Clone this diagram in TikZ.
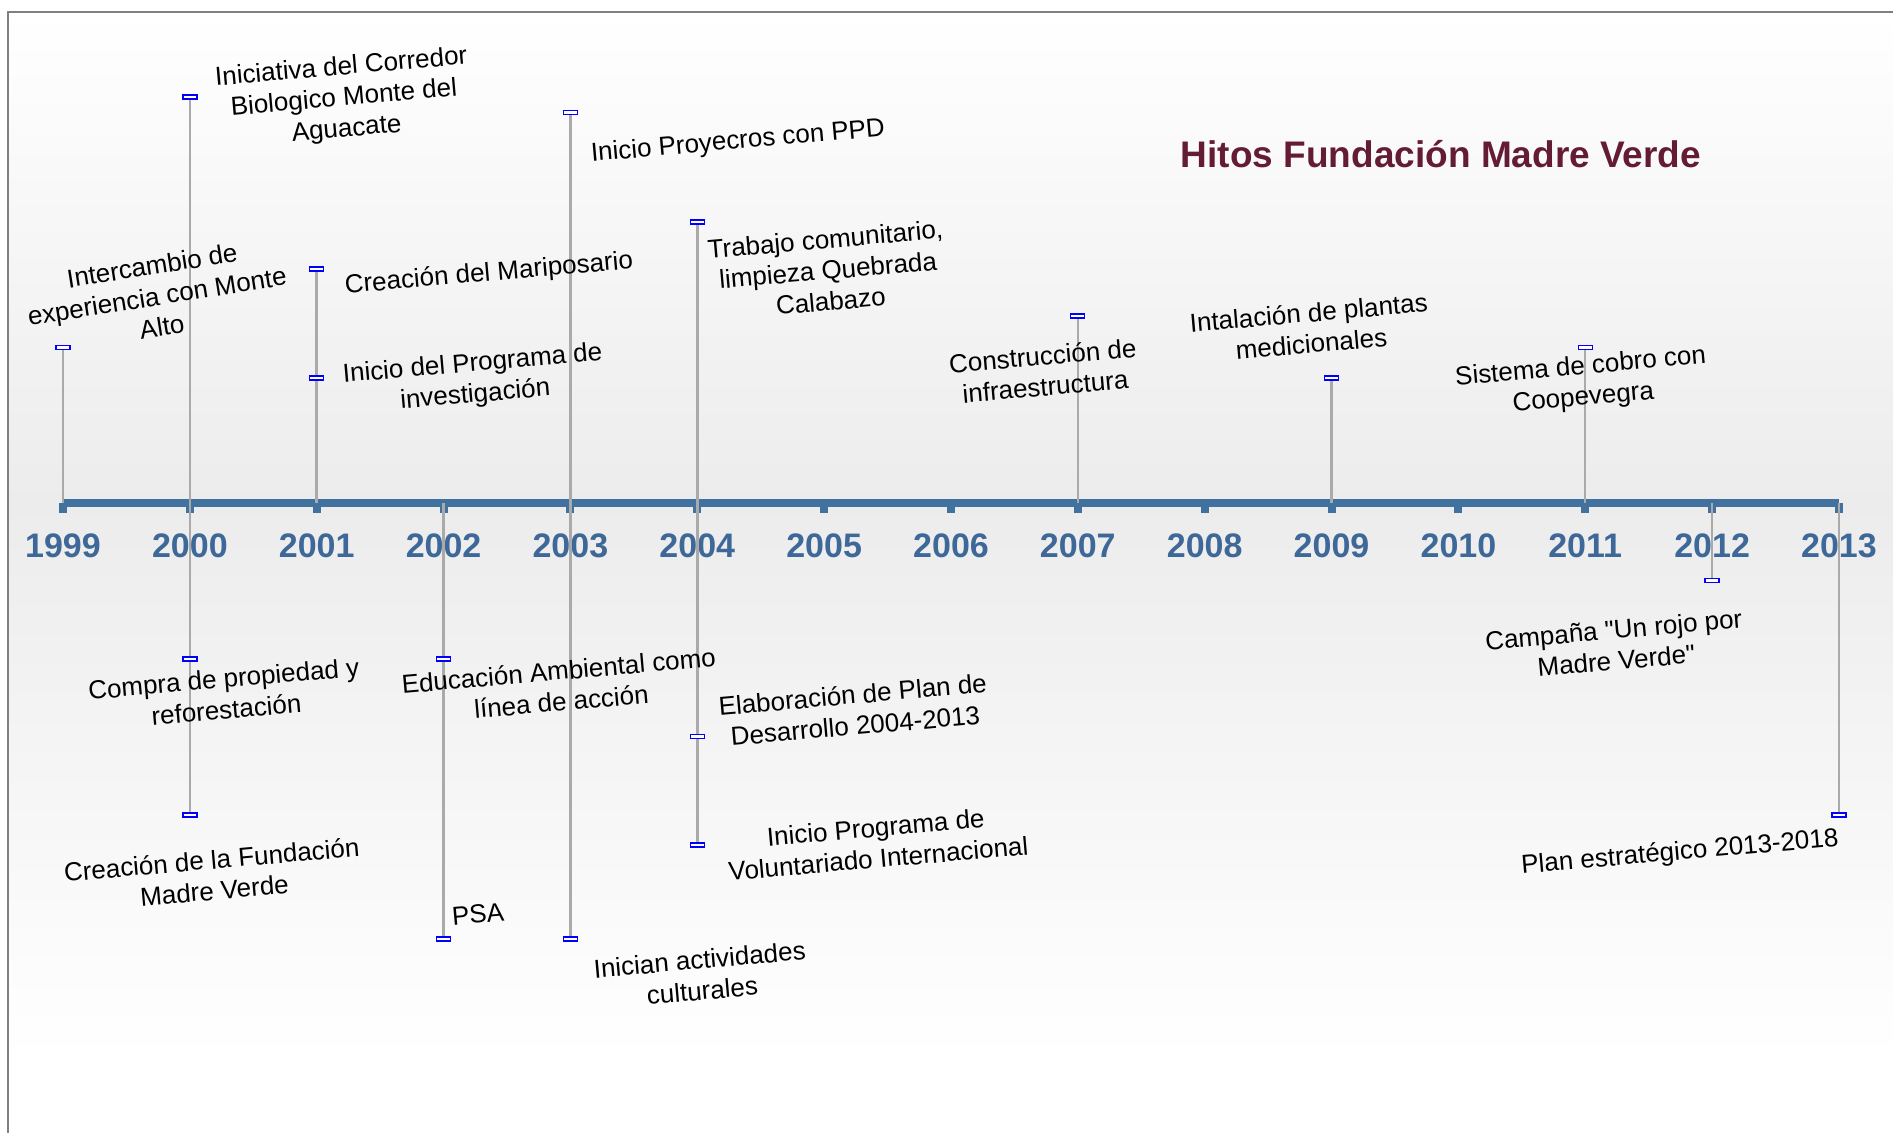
\documentclass[tikz,border=0pt]{standalone}
\usepackage{fontspec}
\setmainfont{Liberation Sans}[Ligatures=TeXOff]
\definecolor{axisBlue}{RGB}{65,113,158}
\definecolor{yearBlue}{RGB}{62,104,152}
\definecolor{stemGray}{RGB}{170,170,170}
\definecolor{titleRed}{RGB}{100,28,52}
\definecolor{bgGray}{RGB}{236,236,236}
\definecolor{frameGray}{RGB}{128,128,128}
\tikzstyle{eventLabel}=[font = \fontsize{26}{31}\selectfont, align = center, rotate = 5, inner sep = 0pt]
\tikzstyle{markerBox}=[shape = rectangle, minimum width = 14pt, minimum height = 4pt, inner sep = 0pt, draw = blue, fill = white, line width = 1.3pt]

\begin{document}
\begin{tikzpicture}[x = 1pt, y = -1pt]
\tikzstyle{tickStyle}=[shape = rectangle, minimum width = 8pt, minimum height = 10pt, inner sep = 0pt, fill = axisBlue]
\tikzstyle{stemStyle}=[draw = stemGray, line width = 2.5pt]
\tikzstyle{yearStyle}=[anchor = base, text = yearBlue, font = \fontsize{34}{40}\selectfont\bfseries]
\useasboundingbox (0,0) rectangle (1893,1133);
\fill[white] (0,0) rectangle (1893,1133);
\shade[top color = white, bottom color = bgGray] (8,12) rectangle (1893,503);
\shade[top color = bgGray, bottom color = white] (8,503) rectangle (1893,1060);
\draw[frameGray, line width = 1.5pt] (1893,12) -- (8,12) -- (8,1133);
\node[anchor = base, text = titleRed, font = \fontsize{37}{44}\selectfont\bfseries] (title) at (1441,167) {Hitos Fundación Madre Verde};
\node[tickStyle] (t1999) at (63,508) {};
\node[tickStyle] (t2000) at (189.9,508) {};
\node[tickStyle] (t2001) at (316.7,508) {};
\node[tickStyle] (t2002) at (443.6,508) {};
\node[tickStyle] (t2003) at (570.4,508) {};
\node[tickStyle] (t2004) at (697.3,508) {};
\node[tickStyle] (t2005) at (824.1,508) {};
\node[tickStyle] (t2006) at (951,508) {};
\node[tickStyle] (t2007) at (1077.8,508) {};
\node[tickStyle] (t2008) at (1204.7,508) {};
\node[tickStyle] (t2009) at (1331.5,508) {};
\node[tickStyle] (t2010) at (1458.4,508) {};
\node[tickStyle] (t2011) at (1585.2,508) {};
\node[tickStyle] (t2012) at (1712.1,508) {};
\node[tickStyle] (t2013) at (1838.9,508) {};
\draw[axisBlue, line width = 7.5pt] (t1999.north) -- (t2013.north);
\node[yearStyle] (y1999) at (63,557) {1999};
\node[yearStyle] (y2000) at (189.9,557) {2000};
\node[yearStyle] (y2001) at (316.7,557) {2001};
\node[yearStyle] (y2002) at (443.6,557) {2002};
\node[yearStyle] (y2003) at (570.4,557) {2003};
\node[yearStyle] (y2004) at (697.3,557) {2004};
\node[yearStyle] (y2005) at (824.1,557) {2005};
\node[yearStyle] (y2006) at (951,557) {2006};
\node[yearStyle] (y2007) at (1077.8,557) {2007};
\node[yearStyle] (y2008) at (1204.7,557) {2008};
\node[yearStyle] (y2009) at (1331.5,557) {2009};
\node[yearStyle] (y2010) at (1458.4,557) {2010};
\node[yearStyle] (y2011) at (1585.2,557) {2011};
\node[yearStyle] (y2012) at (1712.1,557) {2012};
\node[yearStyle] (y2013) at (1838.9,557) {2013};
\node[markerBox] (m1999) at (63,347.5) {};
\node[markerBox] (m2000a) at (189.9,97) {};
\node[markerBox] (m2000b) at (189.9,659) {};
\node[markerBox] (m2000c) at (189.9,815) {};
\node[markerBox] (m2001a) at (316.7,269) {};
\node[markerBox] (m2001b) at (316.7,378) {};
\node[markerBox] (m2002a) at (443.6,659) {};
\node[markerBox] (m2002b) at (443.6,939) {};
\node[markerBox] (m2003a) at (570.4,112.5) {};
\node[markerBox] (m2003b) at (570.4,939) {};
\node[markerBox] (m2004a) at (697.3,222) {};
\node[markerBox] (m2004b) at (697.3,736.5) {};
\node[markerBox] (m2004c) at (697.3,845) {};
\node[markerBox] (m2007) at (1077.8,316) {};
\node[markerBox] (m2009) at (1331.5,378) {};
\node[markerBox] (m2011) at (1585.2,347.5) {};
\node[markerBox] (m2012) at (1712.1,580.7) {};
\node[markerBox] (m2013) at (1838.9,815) {};
\draw[stemStyle] (t1999.north) -- (m1999);
\draw[stemStyle] (t2000.north) -- (m2000a);
\draw[stemStyle] (t2000.north) -- (m2000b) -- (m2000c);
\draw[stemStyle] (t2001.north) -- (m2001b) -- (m2001a);
\draw[stemStyle] (t2002.north) -- (m2002a) -- (m2002b);
\draw[stemStyle] (t2003.north) -- (m2003a);
\draw[stemStyle] (t2003.north) -- (m2003b);
\draw[stemStyle] (t2004.north) -- (m2004a);
\draw[stemStyle] (t2004.north) -- (m2004b) -- (m2004c);
\draw[stemStyle] (t2007.north) -- (m2007);
\draw[stemStyle] (t2009.north) -- (m2009);
\draw[stemStyle] (t2011.north) -- (m2011);
\draw[stemStyle] (t2012.north) -- (m2012);
\draw[stemStyle] (t2013.north) -- (m2013);
\node[eventLabel, rotate = 4] (intercambio) at (157,296) {Intercambio de\\experiencia con Monte\\Alto};
\node[eventLabel] (corredor) at (344,99) {Iniciativa del Corredor\\Biologico Monte del\\Aguacate};
\node[eventLabel] (mariposario) at (489,274) {Creación del Mariposario};
\node[eventLabel] (investigacion) at (474,380) {Inicio del Programa de\\investigación};
\node[eventLabel] (ppd) at (738,142) {Inicio Proyecros con PPD};
\node[eventLabel] (comunitario) at (828,270) {Trabajo comunitario,\\limpieza Quebrada\\Calabazo};
\node[eventLabel] (infraestructura) at (1044,371) {Construcción de\\infraestructura};
\node[eventLabel] (plantas) at (1310,328) {Intalación de plantas\\medicionales};
\node[eventLabel] (cobro) at (1582,383) {Sistema de cobro con\\Coopevegra};
\node[eventLabel] (compra) at (225,694) {Compra de propiedad y\\reforestación};
\node[eventLabel] (fundacion) at (213,875) {Creación de la Fundación\\Madre Verde};
\node[eventLabel] (educacion) at (560,686) {Educación Ambiental como\\línea de acción};
\node[eventLabel] (psa) at (478,914) {PSA};
\node[eventLabel] (culturales) at (701,975) {Inician actividades\\culturales};
\node[eventLabel] (plan) at (854,710) {Elaboración de Plan de\\Desarrollo 2004-2013};
\node[eventLabel] (voluntariado) at (877,843) {Inicio Programa de\\Voluntariado Internacional};
\node[eventLabel] (campana) at (1615,645) {Campaña "Un rojo por\\Madre Verde"};
\node[eventLabel] (estrategico) at (1680,853) {Plan estratégico 2013-2018};
\end{tikzpicture}
\end{document}
